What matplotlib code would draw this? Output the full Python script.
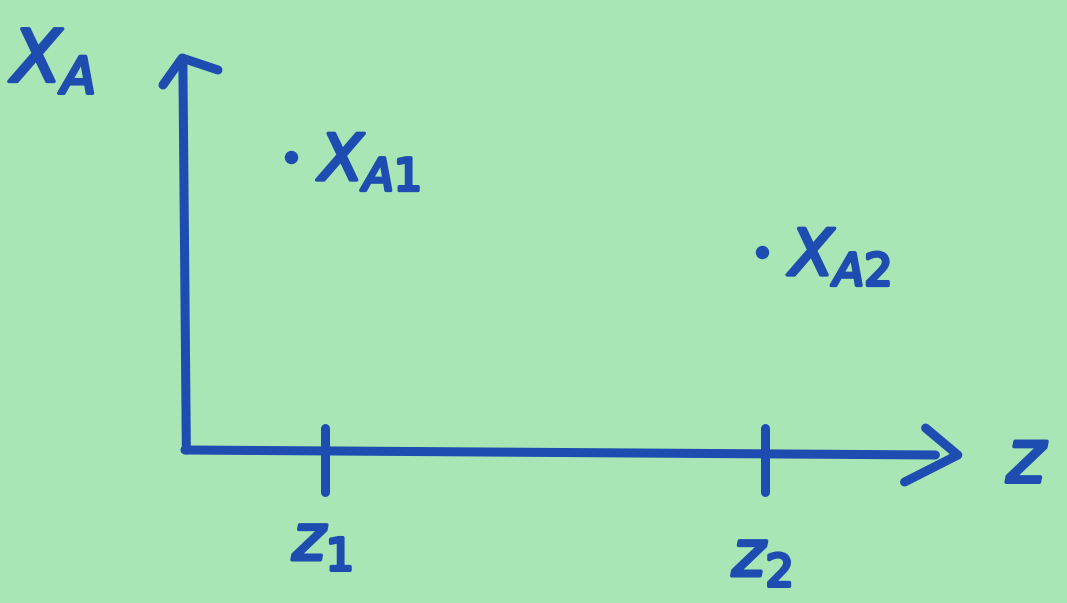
import numpy as np
import matplotlib.pyplot as plt
import matplotlib.patheffects as pe

# positions along z and the matching X_A values
z_ticks = [1.0, 4.14]
z_tick_labels = [r'$z_1$', r'$z_2$']
z_points = [0.76, 4.12]
xa_points = [2.93, 1.98]
point_labels = [r'$X_{A1}$', r'$X_{A2}$']

paper = '#a8e7b5'
ink = '#1e4cb0'

plt.rcParams['mathtext.fontset'] = 'dejavusans'

fig = plt.figure(figsize=(10.67, 6.03), dpi=100)
fig.patch.set_facecolor(paper)
ax = fig.add_axes([0, 0, 1, 1])
ax.set_facecolor(paper)
ax.set_xlim(-1.321, 6.3)
ax.set_ylim(-1.53, 4.5)
ax.axis('off')

line_kw = dict(color=ink, lw=6.5, solid_capstyle='round', solid_joinstyle='round')
# marker-pen look for the lettering
pen = [pe.withStroke(linewidth=2.5, foreground=ink)]
text_kw = dict(color=ink, path_effects=pen)

# vertical axis with arrowhead
ax.plot([0.01, -0.015], [0, 3.9], **line_kw)
ax.plot([-0.157, -0.02, 0.236], [3.65, 3.92, 3.8], **line_kw)

# horizontal axis with arrowhead
ax.plot([0, 5.36], [0, -0.05], **line_kw)
ax.plot([5.29, 5.52, 5.14], [0.22, -0.05, -0.32], **line_kw)

# tick marks on z
for z in z_ticks:
    ax.plot([z, z], [0.22, -0.42], **line_kw)
label_y = [-0.92, -1.08]
for z, y, lab in zip(z_ticks, label_y, z_tick_labels):
    ax.text(z - 0.02, y, lab, fontsize=46, ha='center', va='center', **text_kw)

# points
ax.scatter(z_points, xa_points, s=75, color=ink, zorder=3)
for z, xa, lab in zip(z_points, xa_points, point_labels):
    ax.text(z + 0.2, xa - 0.05, lab, fontsize=46, ha='left', va='center', **text_kw)

# axis titles
ax.text(-0.93, 3.88, r'$X_A$', fontsize=52, ha='center', va='center', **text_kw)
ax.text(6.02, -0.12, r'$z$', fontsize=54, ha='center', va='center', **text_kw)

fig.savefig('out.png', dpi=100, facecolor=paper)
